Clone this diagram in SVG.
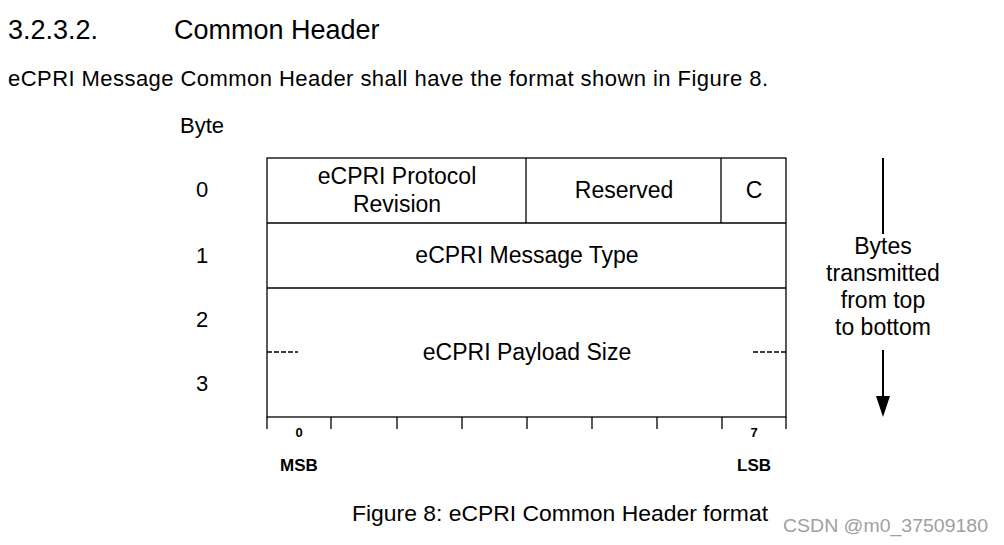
<svg xmlns="http://www.w3.org/2000/svg" width="1004" height="545" viewBox="0 0 1004 545">
<style>
text{font-family:"Liberation Sans",Arial,sans-serif;fill:#000}
.t20{font-size:22px}
.t23{font-size:23px}
.c{text-anchor:middle}
.sm{font-size:13px;font-weight:bold}
.ms{font-size:17px;font-weight:bold}
.ln{stroke:#000;stroke-width:1.3;fill:none}
</style>
<rect width="1004" height="545" fill="#fff"/>
<text x="8" y="39" style="font-size:27px">3.2.3.2.</text>
<text x="174" y="39" style="font-size:27px">Common Header</text>
<text x="8" y="86" class="t20" textLength="760">eCPRI Message Common Header shall have the format shown in Figure 8.</text>
<text x="180" y="133" class="t20">Byte</text>
<g id="byte-labels">
<text x="202" y="197" class="t20 c">0</text>
<text x="202" y="263" class="t20 c">1</text>
<text x="202" y="327" class="t20 c">2</text>
<text x="202" y="391" class="t20 c">3</text>
</g>
<g id="table">
<rect x="267" y="158" width="519" height="259" class="ln"/>
<line x1="267" y1="223" x2="786" y2="223" class="ln"/>
<line x1="267" y1="288" x2="786" y2="288" class="ln"/>
<line x1="526" y1="158" x2="526" y2="223" class="ln"/>
<line x1="721" y1="158" x2="721" y2="223" class="ln"/>
<line x1="267" y1="352" x2="298" y2="352" class="ln" stroke-dasharray="5,2" stroke-width="1"/>
<line x1="753" y1="352" x2="786" y2="352" class="ln" stroke-dasharray="5,2" stroke-width="1"/>
</g>
<g id="node-revision"><text x="397" y="184" class="t23 c">eCPRI Protocol</text><text x="397" y="212" class="t23 c">Revision</text></g>
<g id="node-reserved"><text x="624" y="198" class="t23 c">Reserved</text></g>
<g id="node-c"><text x="754" y="198" class="t23 c">C</text></g>
<g id="node-type"><text x="527" y="263" class="t23 c">eCPRI Message Type</text></g>
<g id="node-size"><text x="527" y="360" class="t23 c">eCPRI Payload Size</text></g>
<g id="ticks" class="ln">
<line x1="267" y1="417" x2="267" y2="429"/>
<line x1="331" y1="417" x2="331" y2="429"/>
<line x1="397" y1="417" x2="397" y2="429"/>
<line x1="462" y1="417" x2="462" y2="429"/>
<line x1="527" y1="417" x2="527" y2="429"/>
<line x1="592" y1="417" x2="592" y2="429"/>
<line x1="657" y1="417" x2="657" y2="429"/>
<line x1="722" y1="417" x2="722" y2="429"/>
<line x1="786" y1="417" x2="786" y2="429"/>
</g>
<text x="299" y="437" class="sm c">0</text>
<text x="754" y="437" class="sm c">7</text>
<text x="299" y="471" class="ms c">MSB</text>
<text x="754" y="471" class="ms c">LSB</text>
<g id="connectors">
<line x1="883" y1="158" x2="883" y2="234" stroke="#000" stroke-width="2"/>
<line x1="883" y1="350" x2="883" y2="398" stroke="#000" stroke-width="2"/>
<polygon points="876,396 890,396 883,417" fill="#000"/>
</g>
<g id="node-direction">
<text x="883" y="254" class="t23 c">Bytes</text>
<text x="883" y="281" class="t23 c">transmitted</text>
<text x="883" y="308" class="t23 c">from top</text>
<text x="883" y="335" class="t23 c">to bottom</text>
</g>
<text x="352" y="521" class="t20" textLength="416" lengthAdjust="spacingAndGlyphs">Figure 8: eCPRI Common Header format</text>
<text x="783" y="532" style="font-size:18px;fill:#a0a0a0" textLength="205" lengthAdjust="spacingAndGlyphs">CSDN @m0_37509180</text>
</svg>
